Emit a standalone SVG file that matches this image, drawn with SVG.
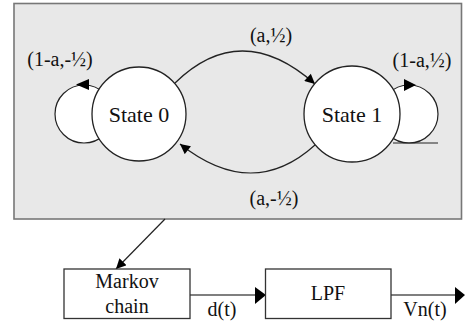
<svg xmlns="http://www.w3.org/2000/svg" width="465" height="328" viewBox="0 0 465 328">
<defs>
<style>
text{font-family:'Liberation Serif','Times New Roman','DejaVu Serif',serif;fill:#111;text-anchor:middle}
.st{font-size:22px}
.lb{font-size:20px}
.edge{fill:none;stroke:#222;stroke-width:1.2}
.loop{fill:#fff;stroke:#222;stroke-width:1.2}
.state{fill:#fff;stroke:#222;stroke-width:1.3}
.box{fill:#fff;stroke:#333;stroke-width:1.3}
.flow{fill:none;stroke:#555;stroke-width:1.3}
.head{fill:#000}
</style>
<marker id="arr" viewBox="0 0 10 10" refX="10" refY="5" markerWidth="11" markerHeight="10" markerUnits="userSpaceOnUse" orient="auto">
<path d="M0,0 L10,5 L0,10 z" fill="#000"/>
</marker>
</defs>
<rect id="panel" x="14" y="3.5" width="447.5" height="215.5" fill="#e8e8e8" stroke="#777" stroke-width="1.6"/>
<g id="connectors">
<circle class="loop" cx="84" cy="114" r="29"/>
<polygon class="head" points="76,84.5 89,79 89,90"/>
<circle class="loop" cx="409" cy="114" r="29"/>
<polygon class="head" points="416,85 404,79 404,91"/>
<line class="edge" x1="393" y1="143" x2="438" y2="143"/>
<path class="edge" d="M175,83 Q241,18.5 315,84" marker-end="url(#arr)"/>
<path class="edge" d="M315,145 Q252.5,201.5 180,144" marker-end="url(#arr)"/>
<line class="edge" x1="165" y1="219" x2="116" y2="269" marker-end="url(#arr)"/>
<line class="flow" x1="190" y1="295" x2="256" y2="295"/>
<polygon class="head" points="255,287 266,295 255,304"/>
<line class="flow" x1="391" y1="295" x2="456" y2="295"/>
<polygon class="head" points="455,287 465,295 455,304"/>
</g>
<g id="state0">
<circle class="state" cx="139" cy="114" r="47"/>
<text class="st" x="139" y="122">State 0</text>
</g>
<g id="state1">
<circle class="state" cx="352" cy="114" r="48"/>
<text class="st" x="352" y="122">State 1</text>
</g>
<g id="labels">
<text class="lb" x="271" y="42">(a,½)</text>
<text class="lb" x="60" y="66">(1-a,-½)</text>
<text class="lb" x="422" y="67">(1-a,½)</text>
<text class="lb" x="274" y="205">(a,-½)</text>
<text class="lb" x="222" y="316">d(t)</text>
<text class="lb" x="425" y="316">Vn(t)</text>
</g>
<g id="markov">
<rect class="box" x="64" y="269" width="126" height="49.5"/>
<text class="lb" x="127" y="288">Markov</text>
<text class="lb" x="127" y="313">chain</text>
</g>
<g id="lpf">
<rect class="box" x="265.5" y="269" width="125.5" height="49.5"/>
<text class="lb" x="328" y="300">LPF</text>
</g>
</svg>
